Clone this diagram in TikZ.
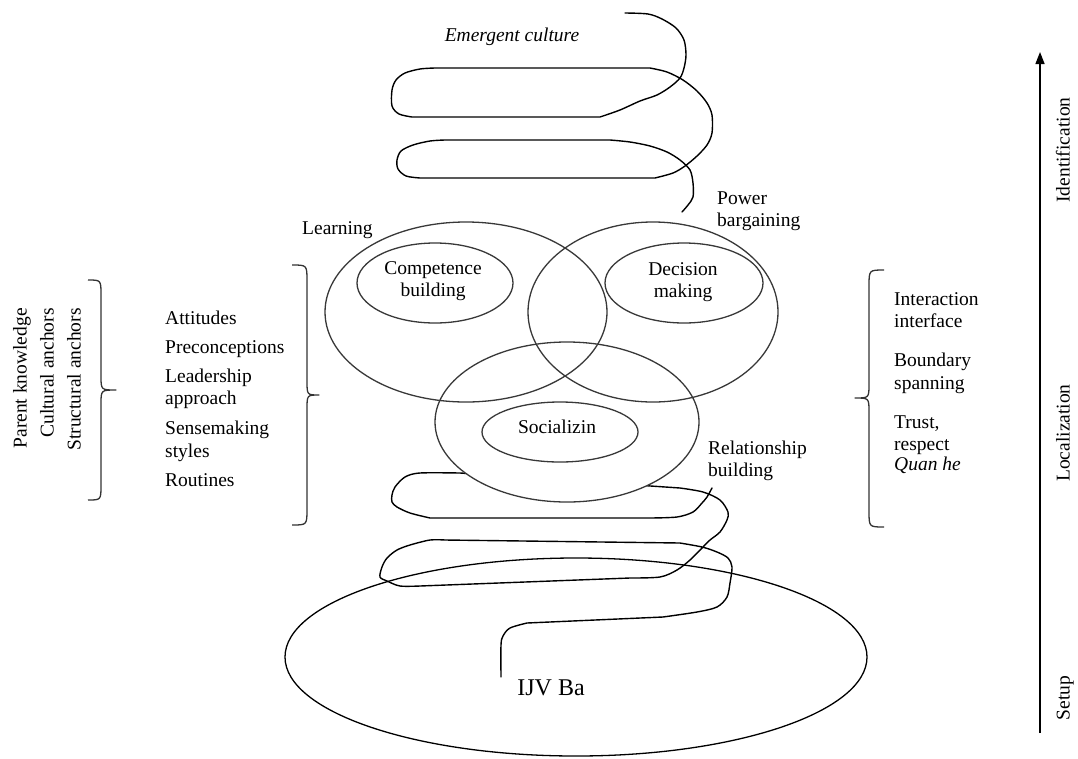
\documentclass[tikz,border=0pt]{standalone}
\usepackage{fontspec}
\setmainfont{Liberation Serif}
\usetikzlibrary{arrows.meta,shapes.geometric}
\begin{document}
\begin{tikzpicture}[x=1pt,y=-1pt,
  tx/.style={font=\fontsize{19.5}{22.5}\selectfont, inner sep=0pt, anchor=base west},
  ctx/.style={font=\fontsize{19.5}{22.5}\selectfont, inner sep=0pt, align=center},
  rot/.style={font=\fontsize{19.5}{22.5}\selectfont, inner sep=0pt, rotate=90, text height=13.5pt, text depth=4.5pt},
  venn/.style={ellipse, draw=black!78, line width=1.3pt, inner sep=0pt},
  spiral/.style={line width=1.4pt, line join=round, line cap=round},
  bracepath/.style={draw=black!80, line width=1.3pt, line join=round}]
\useasboundingbox (0,0) rectangle (1078,758);

% ---------------- top spiral (emergent culture)
\draw[spiral]
 plot[smooth, tension=0.5] coordinates {(625,13) (648,14) (662,19) (676,28) (684,40) (686,55) (684,68) (680,78) (670,87) (657,95) (640,101) (620,110) (600,117)}
 -- plot[smooth, tension=0.5] coordinates {(412,117) (399,114) (392,106) (392,90) (396,80) (405,73) (420,69) (435,68)}
 -- plot[smooth, tension=0.5] coordinates {(650,68) (667,72) (683,80) (697,91) (707,103) (712,115) (712,133) (707,145) (697,156) (685,166) (673,173) (655,178)}
 -- plot[smooth, tension=0.5] coordinates {(420,178) (406,176) (398,169) (397,160) (401,151) (413,145) (430,141) (445,140)}
 -- plot[smooth, tension=0.5] coordinates {(610,140) (630,142) (650,146) (667,152) (680,160) (690,170) (693,183) (693,197) (688,205) (682,212)};

% ---------------- bottom spiral (from IJV Ba upward)
\draw[spiral]
 plot[smooth, tension=0.5] coordinates {(501,677) (501,645) (503,636) (510,628) (527,623)}
 -- plot[smooth, tension=0.5] coordinates {(663,617) (697,612) (717,607) (727,597) (730,583) (732,567) (728,558) (717,552) (702,547) (680,543)}
 -- plot[smooth, tension=0.5] coordinates {(445,540) (430,540) (410,545) (397,550) (387,558) (382,567) (380,577) (387,581) (400,586) (420,586)}
 -- plot[smooth, tension=0.5] coordinates {(630,578) (660,577) (677,570) (690,560) (702,548) (710,540) (720,532) (727,520) (728,512) (720,500) (703,492) (680,488)}
 -- plot[smooth, tension=0.5] coordinates {(460,473) (420,473) (405,477) (395,487) (392,495) (392,502) (397,507) (410,513) (430,518)}
 -- plot[smooth, tension=0.5] coordinates {(650,518) (677,517) (693,512) (702,503) (707,497) (712,488)};

% ---------------- IJV Ba ellipse
\node[ellipse, draw, line width=1.3pt, inner sep=0pt, minimum width=582, minimum height=198] (ba) at (576,657) {};
\node[font=\fontsize{24}{28}\selectfont, inner sep=0pt] (balbl) at (551,688) {IJV Ba};

% ---------------- Venn ellipses
\node[venn, fill=white, minimum width=264, minimum height=160] (social) at (567,422) {};
\node[venn, minimum width=282, minimum height=180] (learn) at (466,312) {};
\node[venn, minimum width=250, minimum height=180] (power) at (653,312) {};
\node[venn, minimum width=156, minimum height=80] (comp) at (435,283) {};
\node[venn, minimum width=158, minimum height=80] (dec) at (684,283) {};
\node[venn, minimum width=156, minimum height=60] (soc) at (560,432) {};

\node[ctx] (comptxt) at (433,281) {Competence\\building};
\node[ctx] (dectxt) at (683,282) {Decision\\making};
\node[ctx] (soctxt) at (557,427) {Socializin};

\node[tx] (learning) at (302,234) {Learning};
\node[tx] (power1) at (717,204) {Power};
\node[tx] (power2) at (717,226) {bargaining};
\node[tx] (rel1) at (708,454) {Relationship};
\node[tx] (rel2) at (708,476) {building};
\node[ctx, font=\fontsize{19.5}{22.5}\selectfont\itshape] (emerg) at (512,37) {Emergent culture};

% ---------------- left rotated column
\node[rot, anchor=east] (parent) at (22,308) {Parent knowledge};
\node[rot, anchor=east] (cultural) at (49,308) {Cultural anchors};
\node[rot, anchor=east] (structural) at (76,308) {Structural anchors};

% braces
\coordinate (b1top) at (88,280); \coordinate (b1tip) at (116,390); \coordinate (b1bot) at (88,500);
\draw[bracepath] (b1top) .. controls (101,280) .. (101,295) -- (101,376) .. controls (101,390) .. (b1tip)
  .. controls (101,390) .. (101,404) -- (101,485) .. controls (101,500) .. (b1bot);

\coordinate (b2top) at (292,265); \coordinate (b2tip) at (319,395); \coordinate (b2bot) at (292,525);
\draw[bracepath] (b2top) .. controls (307,265) .. (307,281) -- (307,381) .. controls (307,395) .. (b2tip)
  .. controls (307,395) .. (307,409) -- (307,509) .. controls (307,525) .. (b2bot);

\coordinate (b3top) at (884,270); \coordinate (b3tip) at (855,398); \coordinate (b3bot) at (884,527);
\draw[bracepath] (b3top) .. controls (869,270) .. (869,286) -- (869,384) .. controls (869,398) .. (b3tip)
  .. controls (869,398) .. (869,412) -- (869,511) .. controls (869,527) .. (b3bot);

% left list
\node[tx] (att) at (165,324) {Attitudes};
\node[tx] (prec) at (165,353) {Preconceptions};
\node[tx] (lead1) at (165,382) {Leadership};
\node[tx] (lead2) at (165,404) {approach};
\node[tx] (sense1) at (165,434) {Sensemaking};
\node[tx] (sense2) at (165,457) {styles};
\node[tx] (rout) at (165,486) {Routines};

% right list
\node[tx] (inter1) at (894,305) {Interaction};
\node[tx] (inter2) at (894,327) {interface};
\node[tx] (bound1) at (894,366) {Boundary};
\node[tx] (bound2) at (894,389) {spanning};
\node[tx] (trust1) at (894,428) {Trust,};
\node[tx] (trust2) at (894,450) {respect};
\node[tx] (quan) at (894,470) {\itshape Quan he};

% ---------------- right axis
\coordinate (axbot) at (1040,733);
\coordinate (axtop) at (1040,52);
\draw[line width=1.3pt, -{Triangle[length=12pt,width=9pt]}] (axbot) -- (axtop);
\node[rot] (ident) at (1065,150) {Identification};
\node[rot] (local) at (1065,433) {Localization};
\node[rot] (setup) at (1065,698) {Setup};
\end{tikzpicture}
\end{document}
